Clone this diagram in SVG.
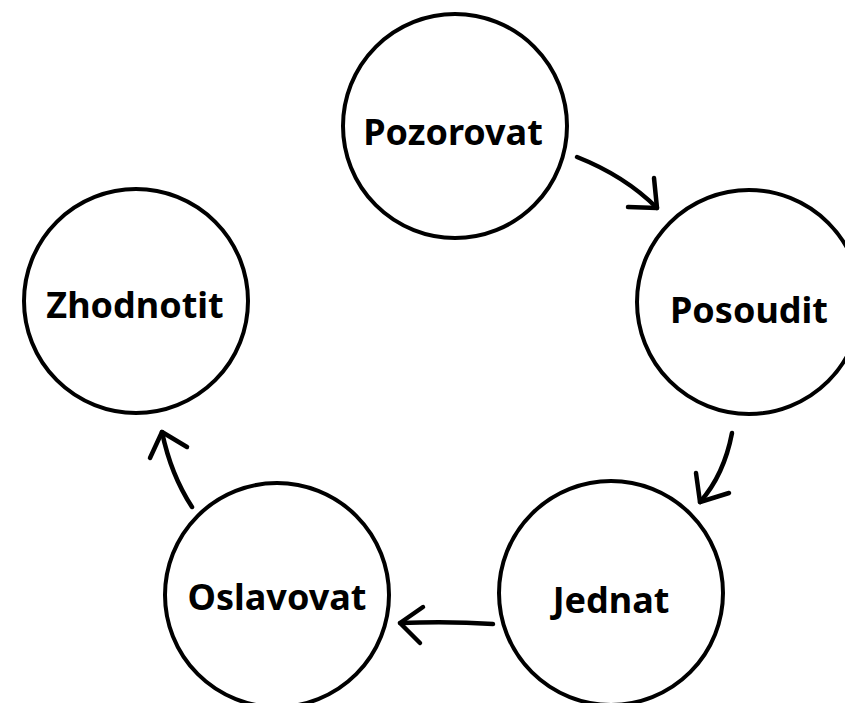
<svg xmlns="http://www.w3.org/2000/svg" width="845" height="703" viewBox="0 0 845 703">
<style>
.node circle{fill:#fff;stroke:#000;stroke-width:4}
.node text{font-family:"Noto Sans","Open Sans",sans-serif;font-weight:700;font-size:36px;fill:#000;text-anchor:middle}
#connectors path{fill:none;stroke:#000;stroke-width:4.5;stroke-linecap:round;stroke-linejoin:round}
</style>
<rect width="845" height="703" fill="#fff"/>
<g id="connectors">
<path d="M577,157 Q625,176 657,208"/>
<path d="M628,207 L657,208 L654,178"/>
<path d="M732,433 Q724,475 700,502"/>
<path d="M696,473 L700,502 L729,493"/>
<path d="M493,624 Q450,621 400,623"/>
<path d="M423,607 L400,623 L420,643"/>
<path d="M192,507 Q171,475 162,432"/>
<path d="M150,458 L162,432 L187,447"/>
</g>
<g id="pozorovat" class="node"><circle cx="455" cy="126" r="112"/><text x="453" y="145">Pozorovat</text></g>
<g id="posoudit" class="node"><circle cx="749" cy="302" r="112"/><text x="749" y="323">Posoudit</text></g>
<g id="jednat" class="node"><circle cx="611" cy="593" r="112"/><text x="611" y="613">Jednat</text></g>
<g id="oslavovat" class="node"><circle cx="277" cy="595" r="112"/><text x="277" y="610">Oslavovat</text></g>
<g id="zhodnotit" class="node"><circle cx="136" cy="301" r="112"/><text x="135" y="318">Zhodnotit</text></g>
</svg>
